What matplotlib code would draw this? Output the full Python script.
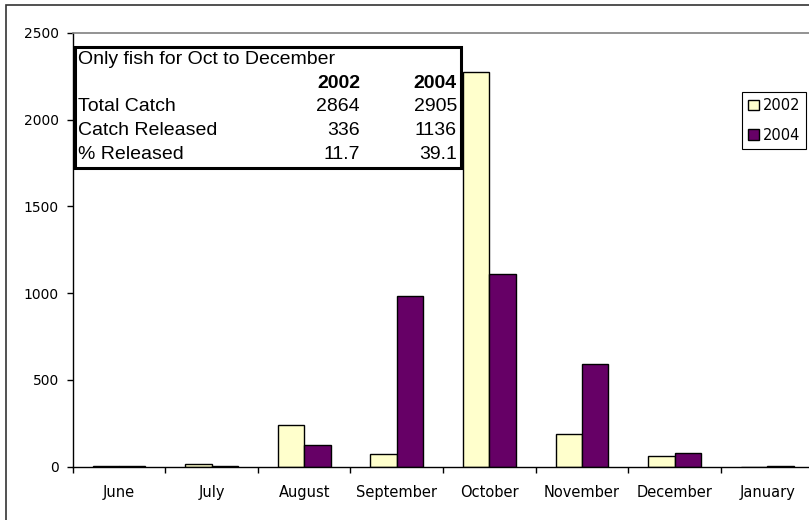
import matplotlib.pyplot as plt
from matplotlib.patches import Rectangle
import numpy as np

months = ['June', 'July', 'August', 'September', 'October', 'November', 'December', 'January']
catch_2002 = [6, 15, 240, 71, 2275, 187, 62, 0]
catch_2004 = [6, 6, 125, 985, 1108, 593, 79, 6]
series_names = ['2002', '2004']

table_title = 'Only fish for Oct to December'
table_rows = ['Total Catch', 'Catch Released', '% Released']
table_2002 = ['2864', '336', '11.7']
table_2004 = ['2905', '1136', '39.1']

plt.rcParams['font.family'] = ['DejaVu Sans']

W, H = 809, 520
fig = plt.figure(figsize=(W / 100, H / 100), dpi=100)


def fx(x):
    return x / W


def fy(y):
    return 1 - y / H


# plot area runs off the right edge of the picture
left, right, top, bottom = 72.7, 813.5, 33, 466.7
ax = fig.add_axes([fx(left), fy(bottom), (right - left) / W, (bottom - top) / H])

x = np.arange(len(months))
w = 0.286
ax.bar(x - w / 2, catch_2002, w, color='#FFFFCC', edgecolor='black', linewidth=1.0, label=series_names[0])
ax.bar(x + w / 2, catch_2004, w, color='#660066', edgecolor='black', linewidth=1.0, label=series_names[1])

ax.set_xlim(-0.5, len(months) - 0.5)
ax.set_ylim(0, 2500)
ax.set_yticks(range(0, 2501, 500))
ax.set_xticks(np.arange(-0.5, len(months) - 0.4, 1.0))
ax.set_xticklabels([])
ax.set_xticks(x, minor=True)
ax.set_xticklabels(months, minor=True)
ax.tick_params(axis='x', which='major', direction='out', length=4, width=1)
ax.tick_params(axis='x', which='minor', length=0, pad=13, labelsize=10.5)
ax.tick_params(axis='y', direction='out', length=4, width=1, labelsize=10, pad=6)

ax.spines['top'].set_color('#808080')
ax.spines['top'].set_linewidth(1.2)
ax.spines['right'].set_visible(False)
ax.spines['left'].set_linewidth(1)
ax.spines['bottom'].set_linewidth(1)

# outer chart border (left and top edges visible)
fig.add_artist(Rectangle((fx(6), -0.2), 2, fy(5) + 0.2, transform=fig.transFigure,
                         fill=False, edgecolor='#333333', linewidth=1.2))

# summary box
fig.add_artist(Rectangle((fx(75), fy(168)), fx(461) - fx(75), fy(47) - fy(168),
                         transform=fig.transFigure, facecolor='white',
                         edgecolor='black', linewidth=2.2, zorder=5))
tfont = ['Liberation Sans', 'DejaVu Sans']
fs = 14
fig.text(fx(78), fy(59), table_title, fontsize=fs, family=tfont, va='center', ha='left', zorder=6)
fig.text(fx(360), fy(83), series_names[0], fontsize=fs, family=tfont, va='center', ha='right',
         fontweight='bold', zorder=6)
fig.text(fx(457), fy(83), series_names[1], fontsize=fs, family=tfont, va='center', ha='right',
         fontweight='bold', zorder=6)
for i, name in enumerate(table_rows):
    yy = 107 + 23.5 * i
    fig.text(fx(78), fy(yy), name, fontsize=fs, family=tfont, va='center', ha='left', zorder=6)
    fig.text(fx(360), fy(yy), table_2002[i], fontsize=fs, family=tfont, va='center', ha='right', zorder=6)
    fig.text(fx(457), fy(yy), table_2004[i], fontsize=fs, family=tfont, va='center', ha='right', zorder=6)

leg = fig.legend(loc='upper left', bbox_to_anchor=(fx(742), fy(92)), fontsize=10.5,
                 frameon=True, fancybox=False, edgecolor='black', framealpha=1,
                 handlelength=0.75, handleheight=0.75, handletextpad=0.25,
                 borderpad=0.42, labelspacing=1.0, borderaxespad=0)
leg.get_frame().set_linewidth(0.8)

fig.savefig('out.png', dpi=100)
